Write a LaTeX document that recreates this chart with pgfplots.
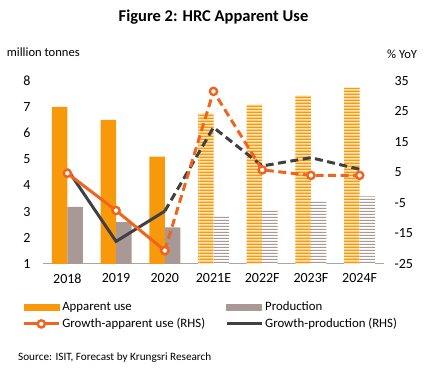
\documentclass[border=0pt]{standalone}
\usepackage{fontspec}
\setmainfont{Carlito}
\usepackage{pgfplots}
\pgfplotsset{compat=1.18}
\usetikzlibrary{patterns}
\pgfdeclarepatternformonly{hstripes}{\pgfpointorigin}{\pgfpoint{200pt}{3.3pt}}{\pgfpoint{200pt}{3.3pt}}{%
  \pgfpathrectangle{\pgfpoint{0pt}{0pt}}{\pgfpoint{200pt}{1.7pt}}\pgfusepath{fill}}
\pgfdeclarepatternformonly{hstripesthin}{\pgfpointorigin}{\pgfpoint{200pt}{3.3pt}}{\pgfpoint{200pt}{3.3pt}}{%
  \pgfpathrectangle{\pgfpoint{0pt}{0pt}}{\pgfpoint{200pt}{1.4pt}}\pgfusepath{fill}}
\definecolor{appO}{HTML}{F7990A}
\definecolor{appL}{HTML}{FFE6B8}
\definecolor{prodG}{HTML}{A89896}
\definecolor{grO}{HTML}{F0641E}
\definecolor{grD}{HTML}{404040}
\definecolor{axG}{HTML}{A6A6A6}
\pgfplotsset{
  legAO/.style={legend image code/.code={\fill[appO] (0pt,-3.3pt) rectangle (35pt,3.3pt);}},
  legPG/.style={legend image code/.code={\fill[prodG] (0pt,-3.3pt) rectangle (35pt,3.3pt);}},
  legGO/.style={legend image code/.code={\draw[grO, line width=3pt] (0pt,0pt) -- (35pt,0pt);
     \draw[grO, line width=2.4pt, fill=white] (17.5pt,0pt) circle (3.6pt);}},
  legGD/.style={legend image code/.code={\draw[grD, line width=3pt] (0pt,0pt) -- (35pt,0pt);}},
}
\begin{document}
\begin{tikzpicture}[x=1pt,y=1pt]
\useasboundingbox (0,0) rectangle (435,371);
\node[font=\fontsize{16.5}{18}\selectfont\bfseries] at (213.5,354) {Figure 2: HRC Apparent Use};
\node[font=\fontsize{12.6}{14}\selectfont, anchor=west, inner sep=0pt] at (6.7,319) {million tonnes};
\node[font=\fontsize{12.6}{14}\selectfont, anchor=west, inner sep=0pt] at (387,317) {\% YoY};
\node[font=\fontsize{11.2}{13}\selectfont, anchor=west, inner sep=0pt] at (18,13.3) {Source: ISIT, Forecast by Krungsri Research};
\begin{axis}[
  at={(43pt,107pt)}, anchor=south west, scale only axis,
  width=341pt, height=183.3pt,
  xmin=-0.5, xmax=6.5, ymin=1, ymax=8,
  axis x line*=bottom, axis y line*=left,
  y axis line style={draw=none},
  x axis line style={-, draw=axG, line width=1pt},
  tick style={draw=none},
  xtick={0,...,6},
  xticklabels={2018,2019,2020,2021E,2022F,2023F,2024F},
  ytick={1,...,8},
  ticklabel style={font=\fontsize{14}{16}\selectfont},
  /pgf/number format/assume math mode=true,
  yticklabel style={xshift=-9pt},
  xticklabel style={yshift=-6pt},
]
\addplot[ybar, bar width=15.5pt, bar shift=-7.75pt, fill=appO, draw=none]
  coordinates {(0,7.0) (1,6.5) (2,5.1)};
\addplot[ybar, bar width=15.5pt, bar shift=7.75pt, fill=prodG, draw=none]
  coordinates {(0,3.18) (1,2.6) (2,2.4)};
\addplot[ybar, bar width=15.5pt, bar shift=-7.75pt, fill=appL, draw=none,
  postaction={pattern=hstripes, pattern color=appO}]
  coordinates {(3,6.75) (4,7.1) (5,7.44) (6,7.74)};
\addplot[ybar, bar width=15.5pt, bar shift=7.75pt, fill=white, draw=none,
  postaction={pattern=hstripesthin, pattern color=prodG}]
  coordinates {(3,2.87) (4,3.09) (5,3.39) (6,3.58)};
\end{axis}
\begin{axis}[
  at={(43pt,107pt)}, anchor=south west, scale only axis,
  width=341pt, height=183.3pt,
  xmin=-0.5, xmax=6.5, ymin=-25, ymax=35,
  axis x line=none, axis y line*=right,
  y axis line style={draw=none},
  tick style={draw=none},
  ytick={-25,-15,...,35},
  ticklabel style={font=\fontsize{14}{16}\selectfont},
  /pgf/number format/assume math mode=true,
  yticklabel style={xshift=7pt},
  legend columns=2,
  legend style={draw=none, fill=none, at={(-0.07,-0.185)}, anchor=north west,
    font=\fontsize{12.8}{14}\selectfont, row sep=2pt,
    /tikz/every even column/.append style={column sep=18pt}},
  legend cell align=left,
]
\addlegendimage{legAO}
\addlegendentry{Apparent use}
\addlegendimage{legPG}
\addlegendentry{Production}
\addlegendimage{legGO}
\addlegendentry{Growth-apparent use (RHS)}
\addlegendimage{legGD}
\addlegendentry{Growth-production (RHS)}
% growth production
\addplot[forget plot, grD, line width=3pt] coordinates {(0,6.0) (1,-17.6) (2,-7.7)};
\addplot[forget plot, grD, line width=3pt, dash pattern=on 8pt off 4.5pt] coordinates {(2,-7.7) (3,19.7) (4,7.1) (5,9.8) (6,6.0)};
% growth apparent use
\addplot[forget plot, grO, line width=3pt, mark=*, mark size=3.6pt, mark options={solid, fill=white, draw=grO, line width=2.4pt}]
  coordinates {(0,4.7) (1,-7.5) (2,-20.6)};
\addplot[forget plot, grO, line width=3pt, dash pattern=on 8pt off 4.5pt, mark=*, mark size=3.6pt, mark options={solid, fill=white, draw=grO, line width=2.4pt}]
  coordinates {(2,-20.6) (3,31.5) (4,5.8) (5,4.0) (6,4.0)};
\end{axis}
\end{tikzpicture}
\end{document}
